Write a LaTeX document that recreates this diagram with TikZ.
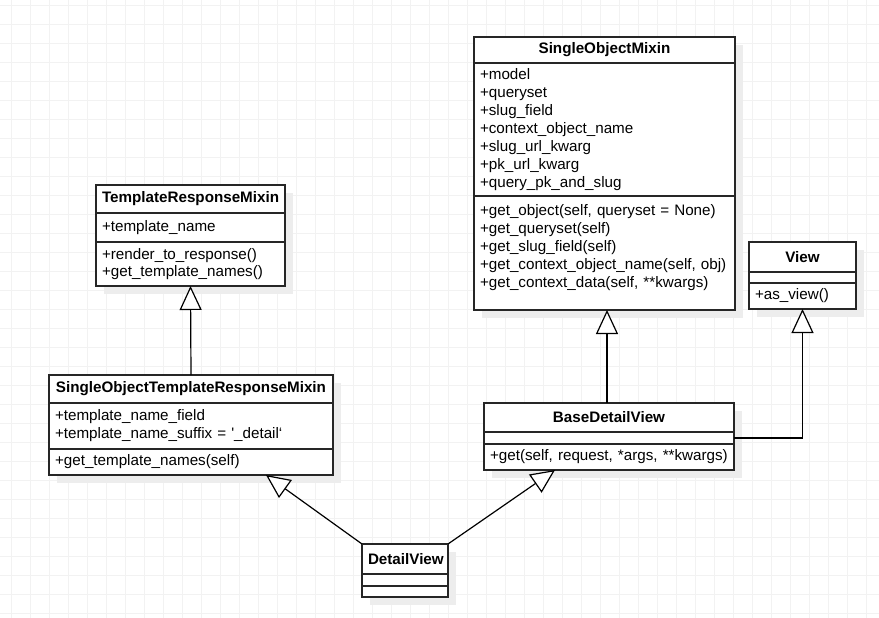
\documentclass[tikz,border=0pt]{standalone}
\usepackage{fontspec}
\setmainfont{Liberation Sans}
\usetikzlibrary{arrows.meta,positioning,backgrounds}

\begin{document}
\begin{tikzpicture}[
    x=1pt, y=-1pt,
    umltitle/.style n args={2}{rectangle, draw=black!85, line width=1.4pt, fill=white, outer sep=0pt, inner xsep=6pt, inner ysep=0pt, text width=#1pt, minimum height=#2pt, align=center, font=\fontsize{15.2}{18}\selectfont\bfseries},
    umlpart/.style n args={2}{rectangle, draw=black!85, line width=1.4pt, fill=white, outer sep=0pt, inner xsep=6pt, inner ysep=0pt, text width=#1pt, minimum height=#2pt, align=left, font=\fontsize{15.2}{18}\selectfont},
    inherit/.style={draw=black, line width=1.2pt, -{Triangle[length=24pt, width=22pt, fill=white, line width=1.2pt]}},
    gridline/.style={draw=black!5, line width=0.8pt},
    boxshadow/.style={fill=black!7}
]
    \useasboundingbox (0,0) rectangle (879,618);

    % classes
    \node[umltitle={249}{26}, anchor=north west] (som) at (474,37) {SingleObjectMixin};
    \node[umlpart={249}{133}, below=0pt of som] (somA) {+model\\+queryset\\+slug\_field\\+context\_object\_name\\+slug\_url\_kwarg\\+pk\_url\_kwarg\\+query\_pk\_and\_slug};
    \node[umlpart={249}{114}, below=0pt of somA] (somM) {+get\_object(self, queryset = None)\\+get\_queryset(self)\\+get\_slug\_field(self)\\+get\_context\_object\_name(self, obj)\\+get\_context\_data(self, **kwargs)\rule[-14pt]{0pt}{0pt}};

    \node[umltitle={177}{28}, anchor=north west] (trm) at (96,185) {TemplateResponseMixin};
    \node[umlpart={177}{29}, below=0pt of trm] (trmA) {+template\_name};
    \node[umlpart={177}{44}, below=0pt of trmA] (trmM) {+render\_to\_response()\\[-1pt]+get\_template\_names()};

    \node[umltitle={272}{28}, anchor=north west] (sotrm) at (49,375) {SingleObjectTemplateResponseMixin};
    \node[umlpart={272}{46}, below=0pt of sotrm] (sotrmA) {+template\_name\_field\\+template\_name\_suffix = \textquotesingle\_detail‘};
    \node[umlpart={272}{26}, below=0pt of sotrmA] (sotrmM) {+get\_template\_names(self)};

    \node[umltitle={238}{29}, anchor=north west] (bdv) at (484,403) {BaseDetailView};
    \node[umlpart={238}{12}, below=0pt of bdv] (bdvA) {};
    \node[umlpart={238}{26}, below=0pt of bdvA] (bdvM) {+get(self, request, *args, **kwargs)};

    \node[umltitle={95}{30}, anchor=north west] (view) at (749,242) {View};
    \node[umlpart={95}{11}, below=0pt of view] (viewA) {};
    \node[umlpart={95}{26}, below=0pt of viewA] (viewM) {+as\_view()};

    \node[umltitle={74}{30}, anchor=north west] (dv) at (362,544) {DetailView};
    \node[umlpart={74}{12}, below=0pt of dv] (dvA) {};
    \node[umlpart={74}{11}, below=0pt of dvA] (dvM) {};

    % generalisations
    \draw[inherit] (sotrm.north) -- (trmM.south);
    \draw[inherit] ([xshift=-2pt]bdv.north) -- ([xshift=-2pt]bdv.north |- somM.south);
    \draw[inherit] (bdvA.east) -| (viewM.south);
    \draw[inherit] (dv.north west) -- ([xshift=-67pt]sotrmM.south east);
    \draw[inherit] (dv.north east) -- ([xshift=71pt]bdvM.south west);

    % grid paper and drop shadows
    \begin{scope}[on background layer]
        \fill[white] (0,0) rectangle (879,618);
        \foreach \gx in {11.7,30.7,...,879} \draw[gridline] (\gx,0) -- (\gx,618);
        \foreach \gy in {5,24,...,618} \draw[gridline] (0,\gy) -- (879,\gy);
        \foreach \cls/\last in {som/somM, trm/trmM, sotrm/sotrmM, bdv/bdvM, view/viewM, dv/dvM}
            \fill[boxshadow] ([shift={(8,8)}]\cls.north west) rectangle ([shift={(8,8)}]\last.south east);
    \end{scope}
\end{tikzpicture}
\end{document}
